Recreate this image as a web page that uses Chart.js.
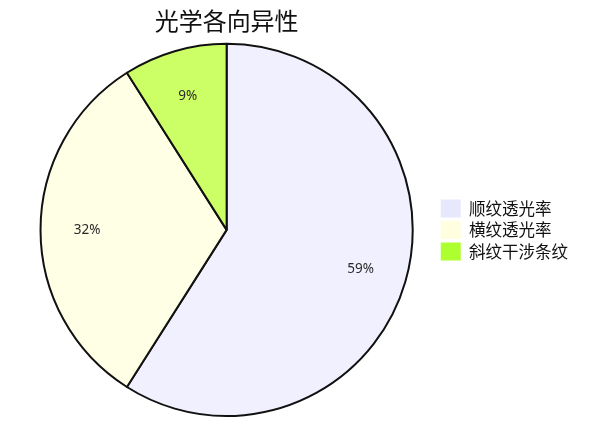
<!DOCTYPE html>
<html>
<head>
<meta charset="utf-8">
<script src="https://cdn.jsdelivr.net/npm/chart.js@4/dist/chart.umd.min.js"></script>
<style>
html,body{margin:0;padding:0;background:#fff;}
#wrap{width:597px;height:437px;}
</style>
</head>
<body>
<div id="wrap"><canvas id="c" width="597" height="437"></canvas></div>
<script>
const categories = ['顺纹透光率', '横纹透光率', '斜纹干涉条纹'];
const values = [59, 32, 9];
const sliceColors = ['#F0F0FF', '#FFFFE6', '#CCFF66'];
const legendColors = ['#E8E8FC', '#FFFFE0', '#ADFF2F'];
const titleText = '光学各向异性';

const labelPlugin = {
  id: 'pctLabels',
  afterDatasetsDraw(chart) {
    const ctx = chart.ctx;
    const meta = chart.getDatasetMeta(0);
    const total = values.reduce((a, b) => a + b, 0);
    ctx.save();
    ctx.font = '13.5px "Noto Sans", sans-serif';
    ctx.fillStyle = '#2a2a2a';
    ctx.textAlign = 'center';
    ctx.textBaseline = 'middle';
    meta.data.forEach((arc, i) => {
      const p = arc.getProps(['x', 'y', 'startAngle', 'endAngle', 'outerRadius'], true);
      const mid = (p.startAngle + p.endAngle) / 2;
      const r = p.outerRadius * 0.75;
      const x = p.x + Math.cos(mid) * r;
      const y = p.y + Math.sin(mid) * r;
      ctx.fillText(Math.round(values[i] / total * 100) + '%', x, y);
    });
    ctx.restore();
  }
};

new Chart(document.getElementById('c'), {
  type: 'pie',
  data: {
    labels: categories,
    datasets: [{
      data: values,
      backgroundColor: sliceColors,
      borderColor: '#111',
      borderWidth: 2
    }]
  },
  options: {
    responsive: false,
    animation: false,
    layout: { padding: { left: 16, right: 19, top: 0, bottom: 20 } },
    plugins: {
      title: {
        display: true,
        fullSize: false,
        text: titleText,
        color: '#111',
        font: { size: 24, family: '"Noto Sans CJK SC", sans-serif', weight: 'normal' },
        padding: { top: 6, bottom: 8 }
      },
      legend: {
        position: 'right',
        fullSize: false,
        labels: {
          boxWidth: 20,
          boxHeight: 18,
          padding: 3.5,
          color: '#111',
          font: { size: 16.5, family: '"Noto Sans CJK SC", sans-serif' },
          generateLabels(chart) {
            return categories.map((c, i) => ({
              text: c,
              fillStyle: legendColors[i],
              strokeStyle: legendColors[i],
              lineWidth: 0,
              hidden: false,
              index: i,
              fontColor: '#111'
            }));
          }
        }
      },
      tooltip: { enabled: false }
    }
  },
  plugins: [labelPlugin]
});
</script>
</body>
</html>
